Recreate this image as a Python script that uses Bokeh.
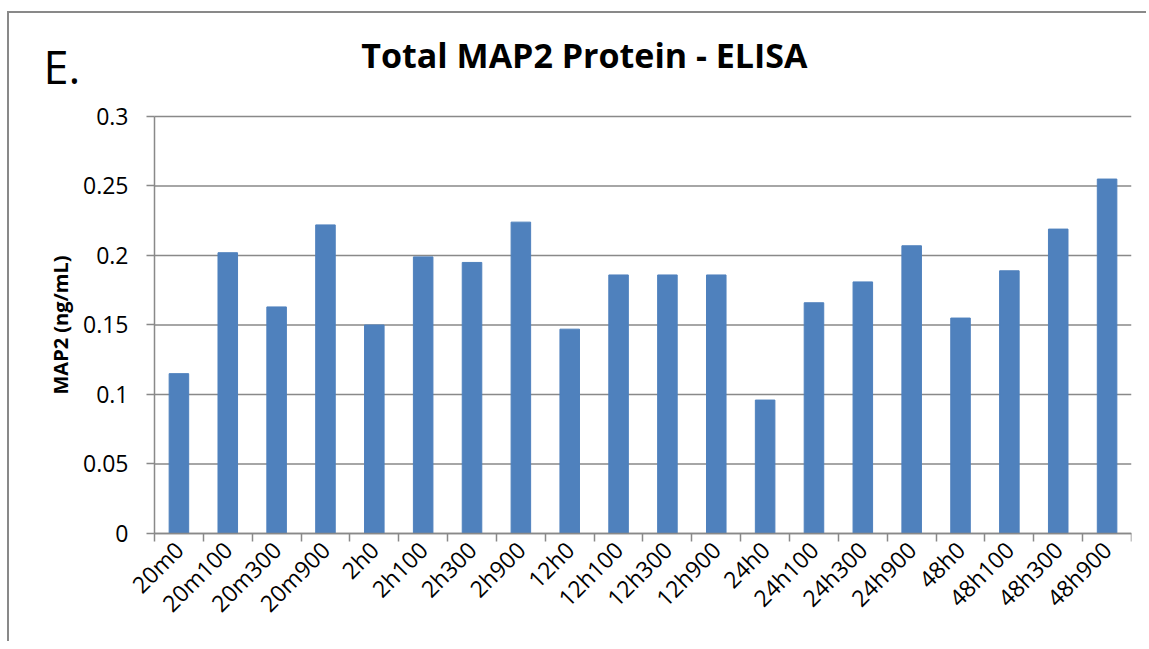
import math
from bokeh.plotting import figure
from bokeh.models import Range1d, FixedTicker, Label
from bokeh.embed import file_html
from bokeh.resources import INLINE

categories = ["20m0", "20m100", "20m300", "20m900", "2h0", "2h100", "2h300", "2h900",
              "12h0", "12h100", "12h300", "12h900", "24h0", "24h100", "24h300", "24h900",
              "48h0", "48h100", "48h300", "48h900"]
values = [0.115, 0.202, 0.163, 0.222, 0.150, 0.199, 0.195, 0.224,
          0.147, 0.186, 0.186, 0.186, 0.096, 0.166, 0.181, 0.207,
          0.155, 0.189, 0.219, 0.255]
y_ticks = [0, 0.05, 0.1, 0.15, 0.2, 0.25, 0.3]
y_tick_labels = ["0", "0.05", "0.1", "0.15", "0.2", "0.25", "0.3"]
title_text = "Total MAP2 Protein - ELISA"
panel_text = "E."
y_label_text = "MAP2 (ng/mL)"

FONT = "Open Sans"
GRAY = "#898989"
n = len(categories)
centers = [i + 0.5 for i in range(n)]
y_max = 0.3

# the frame covers the whole chart so that every text stays inside it;
# both axes are drawn at fixed data locations (x = 0 and y = 0)
p = figure(width=1139, height=630, output_backend="svg", toolbar_location=None,
           x_range=Range1d(-2.968, n), y_range=Range1d(-0.079137, 0.3741),
           min_border_left=0, min_border_top=0, min_border_right=17, min_border_bottom=0)
p.styles = {"border-left": "2px solid " + GRAY, "border-top": "2px solid " + GRAY,
            "margin-top": "11px", "margin-left": "7px"}
p.outline_line_color = None
p.background_fill_color = "white"
p.xgrid.grid_line_color = None
p.ygrid.grid_line_color = None

# horizontal grid lines at the y ticks, only across the plotting area
p.segment(x0=[0] * len(y_ticks), x1=[n] * len(y_ticks), y0=y_ticks, y1=y_ticks,
          line_color=GRAY, line_width=1.5)

p.vbar(x=centers, top=values, width=0.4, fill_color="#4F81BD", line_color="#4F81BD")

# x axis at y = 0
xa = p.xaxis[0]
xa.fixed_location = 0
xa.bounds = (0, n)
xa.ticker = FixedTicker(ticks=centers, minor_ticks=list(range(n + 1)))
xa.major_label_overrides = {c: lab for c, lab in zip(centers, categories)}
xa.major_tick_line_color = None
xa.minor_tick_line_color = GRAY
xa.minor_tick_line_width = 1.5
xa.minor_tick_out = 8
xa.minor_tick_in = 0
xa.axis_line_color = GRAY
xa.axis_line_width = 1.5
xa.major_label_orientation = 0.785398
xa.major_label_text_font = FONT
xa.major_label_text_font_size = "23px"
xa.major_label_text_color = "black"
xa.major_label_standoff = 4

# y axis at x = 0
ya = p.yaxis[0]
ya.fixed_location = 0
ya.bounds = (0, y_max)
ya.ticker = FixedTicker(ticks=y_ticks)
ya.major_label_overrides = {t: s for t, s in zip(y_ticks, y_tick_labels)}
ya.minor_tick_line_color = None
ya.major_tick_line_color = GRAY
ya.major_tick_line_width = 1.5
ya.major_tick_out = 8
ya.major_tick_in = 0
ya.axis_line_color = GRAY
ya.axis_line_width = 1.5
ya.major_label_text_font = FONT
ya.major_label_text_font_size = "23px"
ya.major_label_text_color = "black"
ya.major_label_standoff = 18

p.add_layout(Label(x=-1.924, y=y_max / 2, text=y_label_text, angle=math.pi / 2,
                   text_align="center", text_baseline="middle", text_font=FONT,
                   text_font_size="20px", text_font_style="bold", text_color="black"))
p.add_layout(Label(x=8.80, y=0.344, text=title_text, text_align="center",
                   text_baseline="alphabetic", text_font=FONT, text_font_style="bold",
                   text_font_size="34px", text_color="black"))
p.add_layout(Label(x=-2.272, y=0.336, text=panel_text, text_align="left",
                   text_baseline="alphabetic", text_font=FONT,
                   text_font_size="45px", text_color="black"))

open("out.html", "w").write(file_html(p, INLINE))
